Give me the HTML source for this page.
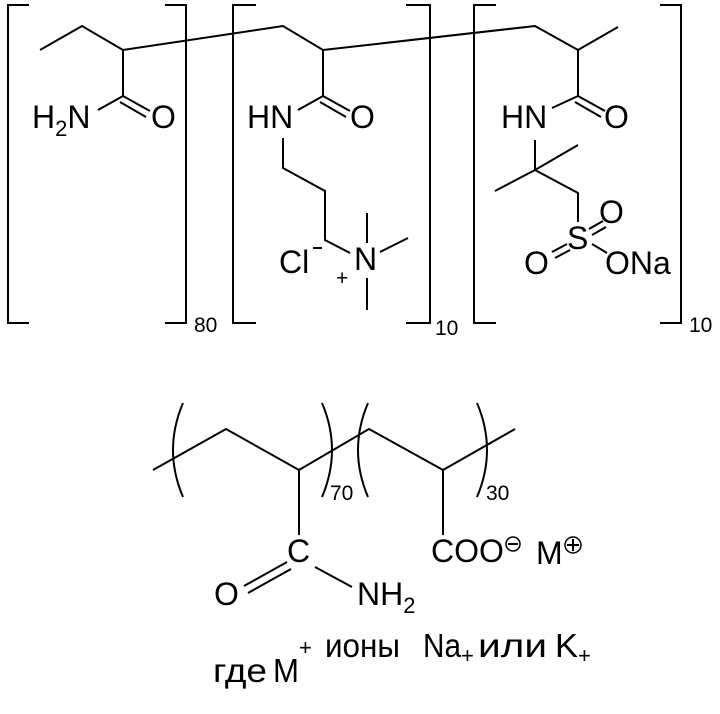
<!DOCTYPE html>
<html><head><meta charset="utf-8"><style>
html,body{margin:0;padding:0;background:#fff;}
svg{display:block;}
text{font-family:"Liberation Sans",Arial,sans-serif;fill:#000;}
</style></head><body>
<svg width="720" height="714" viewBox="0 0 720 714" xmlns="http://www.w3.org/2000/svg">
<g stroke="#000" stroke-width="2" fill="none" stroke-linecap="butt">
<polyline points="29,5 8,5 8,323 29,323"/>
<polyline points="165,5 186,5 186,323 165,323"/>
<polyline points="256,5 233,5 233,323 256,323"/>
<polyline points="406,5 430,5 430,323 406,323"/>
<polyline points="496,5 474,5 474,323 496,323"/>
<polyline points="660,5 681,5 681,323 660,323"/>
<polyline points="40,50 82,26 123,50 283,26 323,50 535,26 578,50 618,27"/>
<line x1="123" y1="50" x2="123" y2="96"/>
<line x1="123" y1="96" x2="98" y2="110"/>
<line x1="123" y1="96" x2="150" y2="111"/>
<line x1="120" y1="102" x2="146" y2="117"/>
<line x1="323" y1="50" x2="323" y2="96"/>
<line x1="323" y1="96" x2="298" y2="110"/>
<line x1="323" y1="96" x2="350" y2="111"/>
<line x1="320" y1="102" x2="346" y2="117"/>
<polyline points="283,138 283,168 325,191 325,240 350,253"/>
<line x1="367" y1="213" x2="367" y2="243"/>
<line x1="380" y1="252" x2="408" y2="238"/>
<line x1="367" y1="278" x2="367" y2="310"/>
<line x1="578" y1="50" x2="578" y2="96"/>
<line x1="578" y1="96" x2="552" y2="108"/>
<line x1="578" y1="96" x2="605" y2="111"/>
<line x1="575" y1="102" x2="601" y2="117"/>
<line x1="535" y1="140" x2="535" y2="170"/>
<line x1="535" y1="170" x2="578" y2="145"/>
<line x1="535" y1="170" x2="495" y2="191"/>
<polyline points="535,170 578,193 578,222"/>
<line x1="589" y1="229" x2="603" y2="221"/>
<line x1="592" y1="235" x2="606" y2="227"/>
<line x1="567" y1="244" x2="552" y2="252"/>
<line x1="570" y1="250" x2="555" y2="258"/>
<line x1="592" y1="244" x2="607" y2="253"/>
<path d="M183,403 Q163,450 183,497"/>
<path d="M322,403 Q342,450 322,497"/>
<path d="M368,403 Q348,450 368,497"/>
<path d="M477,403 Q497,450 477,497"/>
<polyline points="153,470 226,429 299,470 369,429 443,470 515,429"/>
<line x1="299" y1="470" x2="299" y2="535"/>
<line x1="287" y1="562" x2="244" y2="586"/>
<line x1="291" y1="569" x2="248" y2="593"/>
<line x1="315" y1="567" x2="352" y2="587"/>
<line x1="443" y1="470" x2="443" y2="535"/>
<circle cx="513" cy="544" r="7" stroke-width="1.5"/>
<line x1="508" y1="544" x2="518" y2="544"/>
<circle cx="573" cy="545" r="8" stroke-width="1.5"/>
<line x1="567" y1="545" x2="579" y2="545"/>
<line x1="573" y1="539" x2="573" y2="551"/>
</g>
<g font-size="32">
<text x="32" y="128">H<tspan font-size="22" dy="8">2</tspan><tspan dy="-8">N</tspan></text>
<text x="151" y="128">O</text>
<text x="247" y="128">HN</text>
<text x="350" y="128">O</text>
<text x="279" y="273">Cl</text>
<text x="354" y="270">N</text>
<text x="501" y="128">HN</text>
<text x="604" y="128">O</text>
<text x="567" y="249">S</text>
<text x="599" y="223">O</text>
<text x="524" y="274">O</text>
<text x="605" y="274">ONa</text>
<text x="287" y="562">C</text>
<text x="214" y="605">O</text>
<text x="357" y="605">NH<tspan font-size="22" dy="8">2</tspan></text>
<text x="431" y="562">COO</text>
<text x="536" y="564">M</text>
</g>
<line x1="313" y1="248" x2="322" y2="248" stroke="#000" stroke-width="2"/>
<g font-size="21">
<text x="336" y="285">+</text>
<text x="194" y="332">80</text>
<text x="435" y="335">10</text>
<text x="689" y="332">10</text>
<text x="330" y="500">70</text>
<text x="486" y="500">30</text>
</g>
<g font-size="33">
<text x="325" y="657" textLength="75" lengthAdjust="spacingAndGlyphs">ионы</text>
<text x="423" y="657" textLength="38" lengthAdjust="spacingAndGlyphs">Na</text>
<text x="461" y="663" font-size="22">+</text>
<text x="478" y="657" textLength="69" lengthAdjust="spacingAndGlyphs">или</text>
<text x="555" y="657" textLength="23" lengthAdjust="spacingAndGlyphs">K</text>
<text x="578" y="663" font-size="22">+</text>
<text x="213" y="682" textLength="54" lengthAdjust="spacingAndGlyphs">где</text>
<text x="273" y="682" textLength="26" lengthAdjust="spacingAndGlyphs">M</text>
<text x="299" y="655" font-size="22">+</text>
</g>
</svg>
</body></html>
